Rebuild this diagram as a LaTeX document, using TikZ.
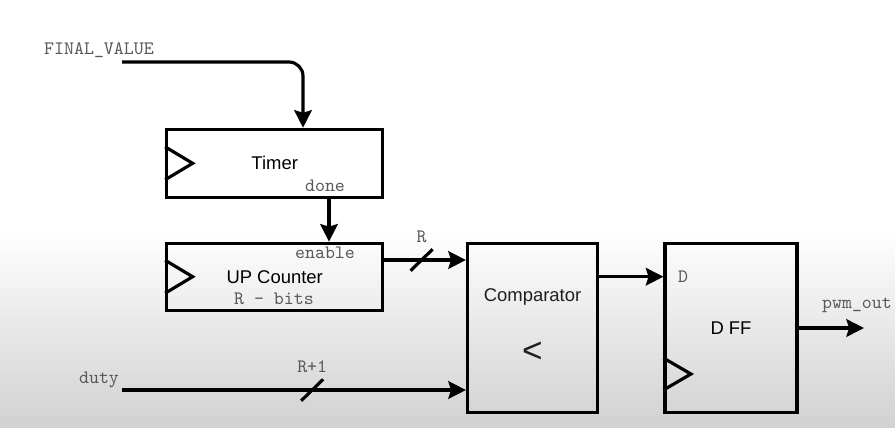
\documentclass[tikz,border=0pt]{standalone}
\usepackage{fontspec}
\setmainfont{Liberation Sans}
\usetikzlibrary{arrows.meta,positioning,calc}

\begin{document}
\begin{tikzpicture}[x=0.02cm, y=-0.02cm, >={Stealth[length=10pt,width=10pt,inset=1.5pt]}, line width=1.8pt,
	block/.style={draw, rectangle, inner sep=0pt, font=\fontsize{10.5}{12}\selectfont},
	sig/.style={font=\ttfamily\fontsize{10.8}{12}\selectfont, text=black!65, inner sep=0pt},
	txt/.style={font=\fontsize{10.5}{12}\selectfont, text=black!88, inner sep=0pt}]
		\useasboundingbox (0,0) rectangle (895,427);
		\fill[white] (0,0) rectangle (895,232);
		\shade[top color=white, bottom color=black!18, draw=none] (0,230) rectangle (895,427);
		
		\node[block, minimum width=4.32cm, minimum height=1.36cm] (timer) at (274.7,163.3) {Timer};
		\node[block, minimum width=4.32cm, minimum height=1.34cm] (counter) at (274.7,276.7) {UP Counter};
		\node[block, minimum width=2.6cm, minimum height=3.38cm] (comp) at (532.5,328) {};
		\node[block, minimum width=2.64cm, minimum height=3.38cm] (dff) at (731,328) {D FF};
		\node[txt] at ($(comp)+(0,-31)$) {Comparator};
		\node[txt, font=\fontsize{20}{22}\selectfont] at ($(comp)+(0,24)$) {<};
		
		\draw ($(timer.west)+(0,-16.5)$) -- ($(timer.west)+(27.5,0)$) -- ($(timer.west)+(0,16.5)$);
		\draw ($(counter.west)+(0,-16.5)$) -- ($(counter.west)+(27.5,0)$) -- ($(counter.west)+(0,16.5)$);
		\draw ($(dff.west)+(0,30)$) -- ($(dff.west)+(27.5,46)$) -- ($(dff.west)+(0,62)$);
		
		\node[sig] (fv) at (99,50) {FINAL\_VALUE};
		\node[sig] (done) at (325,186) {done};
		\node[sig] (enable) at (325,253) {enable};
		\node[sig] (rbits) at (274,299) {R - bits};
		\node[sig] (duty) at (99,380) {duty};
		\node[sig] (din) at (683,277) {D};
		\node[sig] (pwm) at (857,305) {pwm\_out};
		
		\coordinate (fvin) at (122,62);
		\coordinate (dutyin) at (122,390);
		\coordinate (cntout) at ($(counter.east)+(0,-16.7)$);
		\coordinate (cmpout) at ($(comp.east)+(0,-51.3)$);
		\coordinate (pwmend) at (864,328);
		
		\draw[->, rounded corners=8pt] (fvin) -| ($(timer.north)+(28.3,0)$);
		\draw[->] ($(timer.south)+(54.3,0)$) -- ($(counter.north)+(54.3,0)$);
		\draw[->] (cntout) -- node[pos=0.457, coordinate] (rbus) {} (comp.west |- cntout);
		\draw[->] (dutyin) -- node[pos=0.553, coordinate] (r1bus) {} (comp.west |- dutyin);
		\draw[->] (cmpout) -- (dff.west |- cmpout);
		\draw[->] (dff.east) -- (pwmend);
		
		\draw ($(rbus)+(-11,10.7)$) -- ($(rbus)+(11,-10.7)$);
		\draw ($(r1bus)+(-11,10.7)$) -- ($(r1bus)+(11,-10.7)$);
		\node[sig] at ($(rbus)+(0,-23.5)$) {R};
		\node[sig] at ($(r1bus)+(0,-23.5)$) {R+1};
\end{tikzpicture}
\end{document}
